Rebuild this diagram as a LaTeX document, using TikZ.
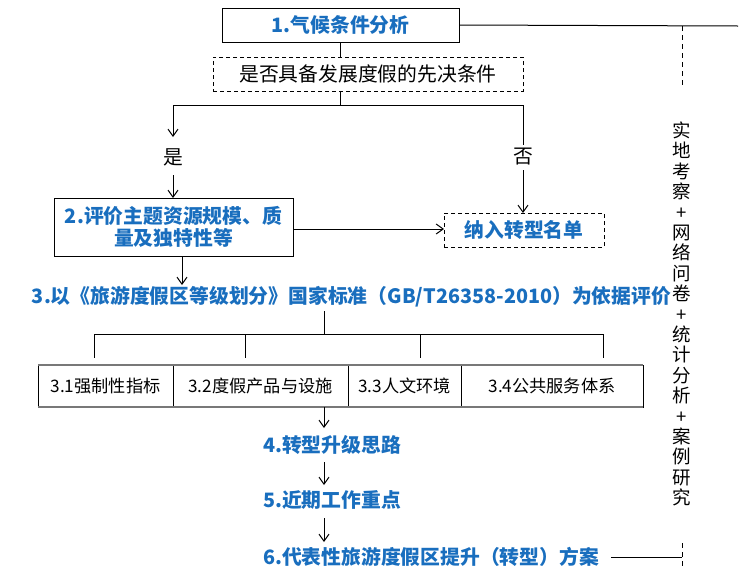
\documentclass[tikz,border=0pt]{standalone}
\usepackage{fontspec}
\newfontfamily\cjk{Noto Sans CJK SC}
\usetikzlibrary{arrows.meta,calc}
\definecolor{tblue}{RGB}{25,110,190}
\definecolor{tgray}{RGB}{120,120,120}
\tikzset{
  base/.style={inner sep=0pt, outer sep=0pt},
  solidbox/.style={base, draw, line width=1pt},
  dashbox/.style={base, draw, line width=1pt, dash pattern=on 4pt off 3pt},
  bluetxt/.style={base, text=tblue, font=\cjk\bfseries\fontsize{19.8}{22}\selectfont},
  plaintxt/.style={base, font=\cjk\fontsize{19.8}{22}\selectfont},
  celltxt/.style={base, draw, line width=1pt, minimum height=42pt, font=\cjk\fontsize{17.2}{19}\selectfont},
  ln/.style={line width=1pt},
  arr/.style={line width=1pt, -{Straight Barb[length=7pt,width=10pt]}},
  dln/.style={line width=1pt, dash pattern=on 5pt off 4pt}
}
\begin{document}
\begin{tikzpicture}[x=1pt,y=-1pt]
\useasboundingbox (0,0) rectangle (750,579);
% top chain
\node[solidbox, bluetxt, minimum width=237pt, minimum height=34pt] (n1) at (340.5,25) {1.气候条件分析};
\node[dashbox, plaintxt, minimum width=310pt, minimum height=34pt] (q) at (368,74) {是否具备发展度假的先决条件};
\draw[ln] (n1.south -| 340,0) -- (340,57);
\coordinate (split) at (340,105);
\coordinate (yesTop) at (173,105);
\coordinate (noTop) at (523,105);
\draw[ln] (q.south -| split) -- (split);
\draw[ln] (yesTop) -- (noTop);
\node[plaintxt] (yes) at (173,157) {是};
\node[plaintxt] (no) at (523,157) {否};
\draw[arr] (yesTop) -- (173,137);
% box 2
\node[solidbox, bluetxt, align=center, minimum width=239pt, minimum height=58pt] (n2) at (173.5,227) {2.评价主题资源规模、质\\量及独特性等};
\draw[arr] (173,175) -- (n2.north -| yes);
\draw[ln] (noTop) -- (523,145);
\node[dashbox, bluetxt, minimum width=160pt, minimum height=34pt] (nl) at (524,230) {纳入转型名单};
\draw[arr] (523,170) -- (nl.north -| no);
\draw[arr] (n2.east |- 0,229) -- (nl.west |- 0,229);
% text 3
\node[bluetxt] (t3) at (351.5,297) {3.以《旅游度假区等级划分》国家标准（GB/T26358-2010）为依据评价};
\draw[arr] ([xshift=8.5pt]n2.south) -- (182,285);
\coordinate (hub) at (324,334);
\draw[ln] (324,311) -- (hub);
\draw[ln] (94,334) -- (603,334);
\foreach \x in {94,245,420,603} \draw[ln] (\x,334) -- (\x,358);
% table
\node[celltxt, minimum width=135pt] (c1) at (105.5,386) {3.1强制性指标};
\node[celltxt, minimum width=175pt] (c2) at (260.5,386) {3.2度假产品与设施};
\node[celltxt, minimum width=113pt] (c3) at (404.5,386) {3.3人文环境};
\node[celltxt, minimum width=182pt] (c4) at (552,386) {3.4公共服务体系};
\draw[tgray, line width=2pt] (c1.north west) -- (c4.north east);
\draw[tgray, line width=2pt] (c1.south west) -- (c4.south east);
% lower chain
\node[bluetxt, anchor=west] (t4) at (263,445) {4.转型升级思路};
\node[bluetxt, anchor=west] (t5) at (263,500) {5.近期工作重点};
\node[bluetxt, anchor=west] (t6) at (263,557) {6.代表性旅游度假区提升（转型）方案};
\draw[arr] (c2.south -| 324,0) -- (324,428);
\draw[arr] (324,462) -- (324,485);
\draw[arr] (324,518) -- (324,542);
% right side
\coordinate (rEnd) at (738,26);
\draw[ln] (n1.east) -- (rEnd);
\draw[dln] (682,26) -- (682,88);
\node[base, align=center, font=\cjk\fontsize{18.5}{20.4}\selectfont] (side) at (682,314)
  {实\\地\\考\\察\\+\\网\\络\\问\\卷\\+\\统\\计\\分\\析\\+\\案\\例\\研\\究};
\coordinate (bEnd) at (682,557);
\draw[dln] (682,543) -- (682,566);
\draw[ln] (611,557) -- (bEnd);
\end{tikzpicture}
\end{document}
